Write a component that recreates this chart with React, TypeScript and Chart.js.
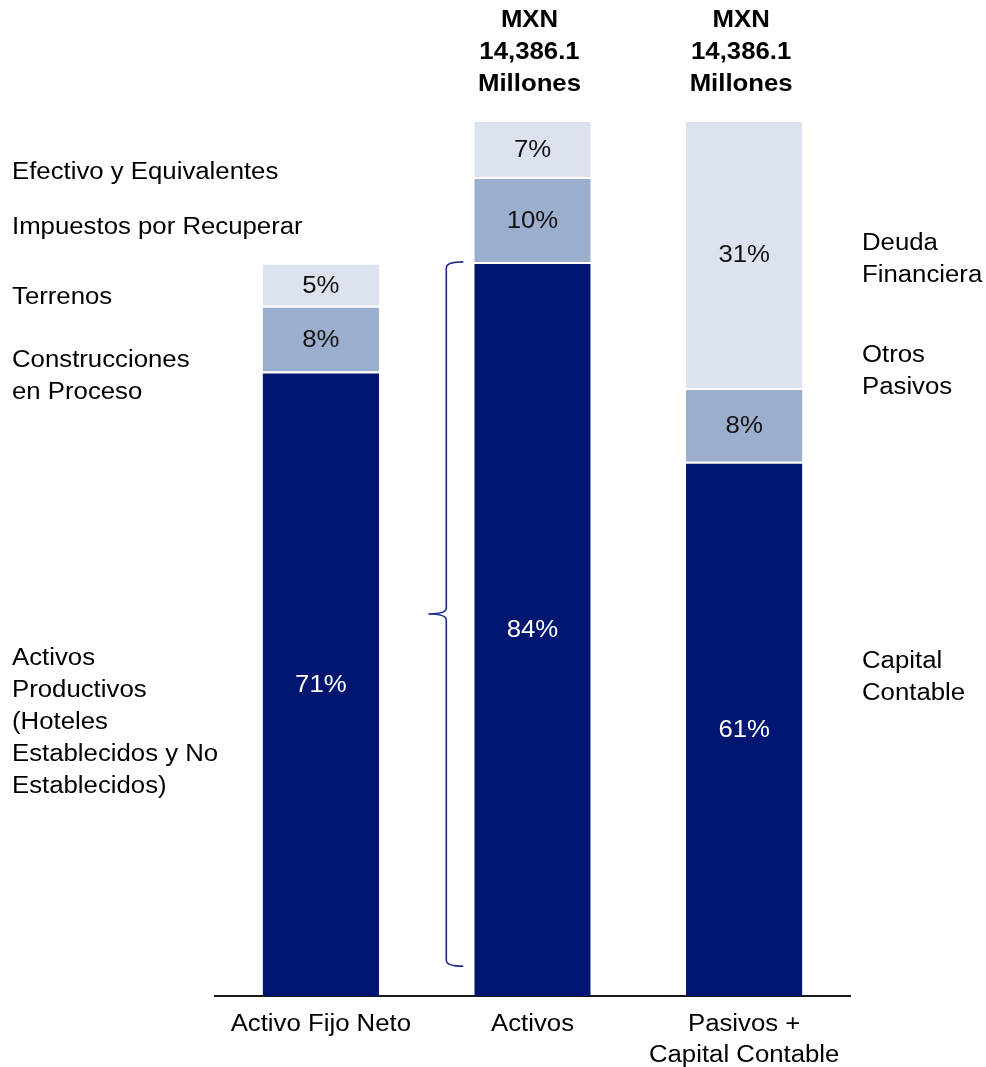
import React, { useEffect, useRef } from "react";
import { Chart, registerables } from "chart.js";

Chart.register(...registerables);

const categories: string[][] = [["Activo Fijo Neto"], ["Activos"], ["Pasivos +", "Capital Contable"]];
const baseValues = [71.3, 83.8, 61.0];
const middleValues = [7.5, 9.7, 8.4];
const topValues = [4.9, 6.5, 30.6];
const baseLabels = ["71%", "84%", "61%"];
const middleLabels = ["8%", "10%", "8%"];
const topLabels = ["5%", "7%", "31%"];
const totalHeader = ["MXN", "14,386.1", "Millones"];
const leftNotes: { text: string[]; value: number }[] = [
  { text: ["Efectivo y Equivalentes"], value: 94.0 },
  { text: ["Impuestos por Recuperar"], value: 87.7 },
  { text: ["Terrenos"], value: 79.7 },
  { text: ["Construcciones", "en Proceso"], value: 72.5 },
  { text: ["Activos", "Productivos", "(Hoteles", "Establecidos y No", "Establecidos)"], value: 38.5 },
];
const rightNotes: { text: string[]; value: number }[] = [
  { text: ["Deuda", "Financiera"], value: 85.9 },
  { text: ["Otros", "Pasivos"], value: 73.1 },
  { text: ["Capital", "Contable"], value: 38.2 },
];
const bracketRange = [83.8, 3.4];

const DARK = "#001670";
const MID = "#9BAECE";
const LIGHT = "#DDE3EE";
const FONT = "'Liberation Sans', Arial, sans-serif";
const STRETCH = 1.12;

function drawText(ctx: any, text: string, x: number, y: number, align: "left" | "center") {
  ctx.save();
  ctx.translate(x, y);
  ctx.scale(STRETCH, 1);
  ctx.textAlign = align;
  ctx.textBaseline = "middle";
  ctx.fillText(text, 0, 0);
  ctx.restore();
}

const overlayPlugin = {
  id: "overlay",
  afterDatasetsDraw(chart: any) {
    const ctx = chart.ctx;
    const yScale = chart.scales.y;
    const xScale = chart.scales.x;
    const area = chart.chartArea;
    const labelSets = [baseLabels, middleLabels, topLabels];
    ctx.save();
    ctx.font = `23px ${FONT}`;
    chart.data.datasets.forEach((ds: any, di: number) => {
      const meta = chart.getDatasetMeta(di);
      meta.data.forEach((el: any, i: number) => {
        const cy = (el.y + el.base) / 2;
        ctx.fillStyle = di === 0 ? "#ffffff" : "#111111";
        drawText(ctx, labelSets[di][i], el.x, cy + 2, "center");
      });
    });
    // category labels
    ctx.fillStyle = "#000000";
    categories.forEach((lines, i) => {
      const x = xScale.getPixelForValue(i);
      lines.forEach((line, li) => drawText(ctx, line, x, area.bottom + 29 + li * 31, "center"));
    });
    // header above bars 2 and 3
    ctx.font = `bold 23px ${FONT}`;
    const meta0 = chart.getDatasetMeta(0);
    [1, 2].forEach((i) => {
      const x = meta0.data[i].x - 3;
      totalHeader.forEach((line, li) => drawText(ctx, line, x, area.top - 99 + li * 32, "center"));
    });
    ctx.font = `23px ${FONT}`;
    leftNotes.forEach((n) => {
      const y0 = yScale.getPixelForValue(n.value);
      n.text.forEach((line, li) => drawText(ctx, line, 12, y0 + li * 32, "left"));
    });
    rightNotes.forEach((n) => {
      const y0 = yScale.getPixelForValue(n.value);
      n.text.forEach((line, li) => drawText(ctx, line, area.right + 12, y0 + li * 32, "left"));
    });
    // bracket
    const bar = meta0.data[1];
    const left = bar.x - bar.width / 2;
    const yTop = yScale.getPixelForValue(bracketRange[0]);
    const yBot = yScale.getPixelForValue(bracketRange[1]);
    const yMid = (yTop + yBot) / 2;
    const vx = left - 28;
    const hx = left - 11;
    const tx = left - 46;
    ctx.strokeStyle = "#1E2C8C";
    ctx.lineWidth = 1.6;
    ctx.beginPath();
    ctx.moveTo(hx, yTop);
    ctx.quadraticCurveTo(vx, yTop, vx, yTop + 6);
    ctx.lineTo(vx, yMid - 6);
    ctx.quadraticCurveTo(vx, yMid, tx, yMid);
    ctx.quadraticCurveTo(vx, yMid, vx, yMid + 6);
    ctx.lineTo(vx, yBot - 6);
    ctx.quadraticCurveTo(vx, yBot, hx, yBot);
    ctx.stroke();
    ctx.restore();
  },
};

export default function App() {
  const ref = useRef<HTMLCanvasElement | null>(null);
  useEffect(() => {
    if (!ref.current) return;
    const mk = (data: number[], color: string) => ({
      data,
      backgroundColor: color,
      borderColor: "#ffffff",
      borderWidth: { top: 2, bottom: 0, left: 0, right: 0 },
      borderSkipped: false,
      categoryPercentage: 1,
      barPercentage: 0.55,
    });
    const chart = new Chart(ref.current, {
      type: "bar",
      data: {
        labels: categories.map((c) => c.join(" ")),
        datasets: [mk(baseValues, DARK), mk(middleValues, MID), mk(topValues, LIGHT)],
      },
      options: {
        responsive: false,
        animation: false,
        layout: { padding: { left: 215, right: 136, top: 120, bottom: 0 } },
        plugins: { legend: { display: false }, tooltip: { enabled: false } },
        scales: {
          x: {
            stacked: true,
            grid: { display: false, drawTicks: false },
            border: { display: true, color: "#1a1a1a", width: 2 },
            ticks: { display: false },
            afterFit: (axis: any) => {
              axis.height = 71;
            },
          },
          y: { stacked: true, display: false, min: 0, max: 100 },
        },
      },
      plugins: [overlayPlugin],
    } as any);
    return () => chart.destroy();
  }, []);
  return (
    <div style={{ position: "absolute", left: 0, top: 0, width: 986, height: 1067, background: "#fff" }}>
      <canvas ref={ref} width={986} height={1067} style={{ display: "block" }} />
    </div>
  );
}
